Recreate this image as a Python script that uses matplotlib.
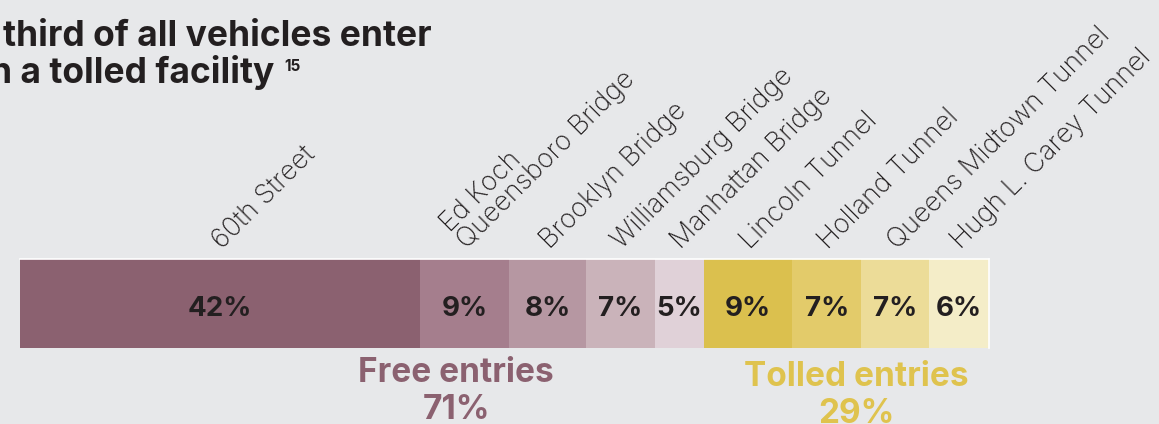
import matplotlib
matplotlib.use("Agg")
import matplotlib.pyplot as plt

# ---- data ----
crossings = ["60th Street", "Ed Koch\nQueensboro Bridge", "Brooklyn Bridge",
             "Williamsburg Bridge", "Manhattan Bridge", "Lincoln Tunnel",
             "Holland Tunnel", "Queens Midtown Tunnel", "Hugh L. Carey Tunnel"]
shares = [41.3, 9.2, 7.9, 7.1, 5.1, 9.1, 7.1, 7.0, 6.2]
share_labels = ["42%", "9%", "8%", "7%", "5%", "9%", "7%", "7%", "6%"]
group_names = ["Free entries", "Tolled entries"]
group_totals = ["71%", "29%"]
colors = ["#8B6170", "#A57E8D", "#B697A2", "#CAB3BA", "#E0D1D8",
          "#DBC04E", "#E3CB6A", "#ECDC98", "#F4EDC8"]
title_lines = ["third of all vehicles enter", "n a tolled facility"]
footnote = "15"

BG = "#E7E8EA"
DARK = "#231F20"
FREE_C = "#8B6170"
TOLL_C = "#DFC34E"
FONT = "Inter"

W, H = 1159, 424
fig = plt.figure(figsize=(W / 100, H / 100), dpi=100, facecolor=BG)
ax = fig.add_axes([0, 0, 1, 1])
ax.set_facecolor(BG)
ax.axis("off")

px = 969 / 100.0  # pixels per percent
x0 = 20 / px
ax.set_xlim(-x0, (W - 20) / px)
ax.set_ylim(H, 0)

bar_y, bar_h = 303.5, 89
lefts = []
acc = 0
for s in shares:
    lefts.append(acc)
    acc += s
ax.barh([bar_y] * len(shares), shares, left=lefts, height=bar_h,
        color=colors, edgecolor="none")
ax.plot([0, acc], [bar_y - bar_h / 2] * 2, color="white", lw=1.2)
ax.plot([acc, acc], [bar_y - bar_h / 2, bar_y + bar_h / 2], color="white", lw=1.2)

for l, s, lab, name in zip(lefts, shares, share_labels, crossings):
    c = l + s / 2
    ax.text(c, 316, lab, ha="center", va="baseline", fontsize=20,
            fontweight="bold", color=DARK, family=FONT)
    ax.annotate(name, xy=(c, 254), xytext=(6, 0), textcoords="offset pixels",
                rotation=45, rotation_mode="anchor", ha="left", va="bottom",
                fontsize=19.3, fontweight="light", color=DARK, family=FONT,
                linespacing=0.9)

# group summaries
centers = [45.0, 86.3]
bases = [382, 386]
for gname, gtot, col, c, yy in zip(group_names, group_totals, [FREE_C, TOLL_C], centers, bases):
    ax.text(c, yy, gname, ha="center", va="baseline", fontsize=24,
            fontweight="bold", color=col, family=FONT)
    ax.text(c, yy + 37, gtot, ha="center", va="baseline", fontsize=24,
            fontweight="bold", color=col, family=FONT)

# title
fig.text(3 / W, 1 - 46 / H, title_lines[0], ha="left", va="baseline",
         fontsize=25.5, fontweight="bold", color=DARK, family=FONT)
t2 = fig.text(-10 / W, 1 - 83 / H, title_lines[1], ha="left", va="baseline",
              fontsize=25.5, fontweight="bold", color=DARK, family=FONT)
fig.canvas.draw()
bb = t2.get_window_extent()
fig.text((bb.x1 + 10) / W, 1 - 71 / H, footnote, ha="left", va="baseline",
         fontsize=11, fontweight="bold", color=DARK, family=FONT)

fig.savefig("out.png", dpi=100, facecolor=BG)
